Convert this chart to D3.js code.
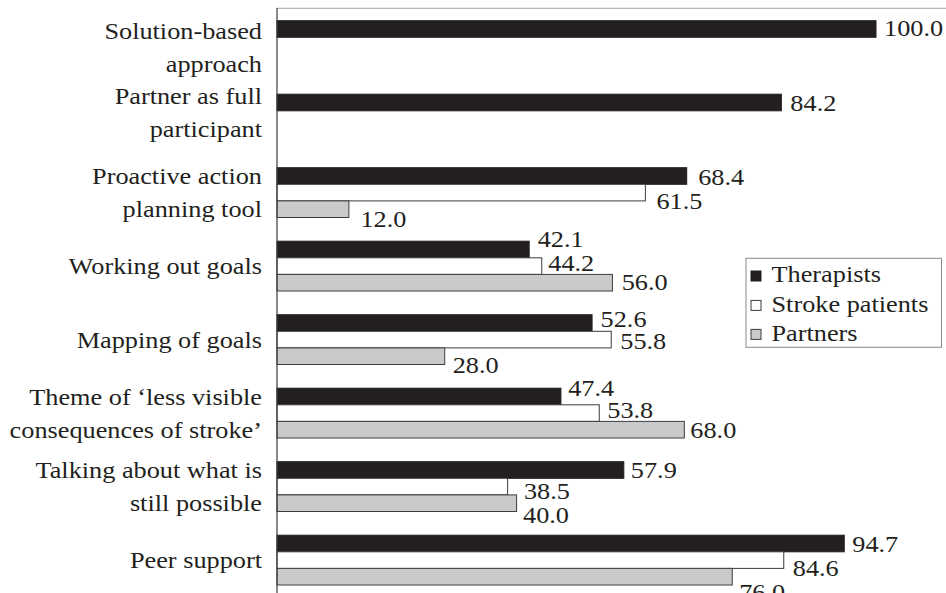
<!DOCTYPE html>
<html>
<head>
<meta charset="utf-8">
<script src="https://cdn.jsdelivr.net/npm/d3@7/dist/d3.min.js"></script>
<style>
  html, body { margin: 0; padding: 0; background: #fff; }
  svg { display: block; }
</style>
</head>
<body>
<svg id="chart" width="946" height="593"></svg>
<script>
// Share of respondents rating each intervention component as useful (%)
const categories = [
  "Solution-based approach",
  "Partner as full participant",
  "Proactive action planning tool",
  "Working out goals",
  "Mapping of goals",
  "Theme of \u2018less visible consequences of stroke\u2019",
  "Talking about what is still possible",
  "Peer support"
];
// Category labels broken into the lines they are printed on
const categoryLines = [
  ["Solution-based", "approach"],
  ["Partner as full", "participant"],
  ["Proactive action", "planning tool"],
  ["Working out goals"],
  ["Mapping of goals"],
  ["Theme of \u2018less visible", "consequences of stroke\u2019"],
  ["Talking about what is", "still possible"],
  ["Peer support"]
];
const seriesNames = ["Therapists", "Stroke patients", "Partners"];
const therapists     = [100.0, 84.2, 68.4, 42.1, 52.6, 47.4, 57.9, 94.7];
const strokePatients = [null,  null, 61.5, 44.2, 55.8, 53.8, 38.5, 84.6];
const partners       = [null,  null, 12.0, 56.0, 28.0, 68.0, 40.0, 76.0];

// ---- layout ----
const W = 946, H = 593;
const x0 = 277, xMax = 876;          // pixel span of 0..100
const bandTop = 20.7, step = 73.5, gap = 23.7;
const FONT = "'Liberation Serif', 'Times New Roman', Times, serif";
const fontSize = 24, stretch = 1.095; // wide serif lettering
const ink = "#231f20";
const fills = [ink, "#ffffff", "#c9cacc"];
const outline = "#3d3b3c";

// Hand placement of the value labels (dx, dy) so neighbours do not collide
const labelNudge = [
  [[0, -1]],
  [[1, 0]],
  [[3.5, 0.7], [3, 8.4], [3.5, 9.2]],
  [[0.5, -11], [-1.5, -3], [1.2, -1]],
  [[0.5, -4.6], [1, 1.4], [0, 8]],
  [[-0.7, -9], [0, -3], [-2, 0]],
  [[-1, 0], [8.3, 4.4], [-1.6, 11]],
  [[0, 0.5], [1, 7.6], [-1, 15]]
];
// Vertical shift of individual category labels
const catLabelShift = [2, -7, 0, 0, 0, 0, 0, 0];

const svg = d3.select("#chart")
  .attr("font-family", FONT);

const x = d3.scaleLinear().domain([0, 100]).range([x0, xMax]);
const pInner = gap / step;
const y = d3.scaleBand()
  .domain(categories)
  .range([bandTop, bandTop + step * (categories.length - pInner)])
  .paddingInner(pInner)
  .paddingOuter(0);
const ySeries = d3.scaleBand()
  .domain(seriesNames)
  .range([0, y.bandwidth()])
  .padding(0);

const seriesValues = [therapists, strokePatients, partners];

// top frame rule
svg.append("line")
  .attr("x1", x(0)).attr("x2", W)
  .attr("y1", 8.3).attr("y2", 8.3)
  .attr("stroke", "#b9b9b9").attr("stroke-width", 1.2);

// bars
const rows = [];
categories.forEach((c, i) => {
  seriesNames.forEach((s, j) => {
    const v = seriesValues[j][i];
    if (v !== null && v !== undefined) rows.push({ c, i, s, j, v });
  });
});

svg.append("g").selectAll("rect")
  .data(rows)
  .join("rect")
  .attr("x", x(0))
  .attr("y", d => y(d.c) + ySeries(d.s))
  .attr("width", d => x(d.v) - x(0))
  .attr("height", ySeries.bandwidth())
  .attr("fill", d => fills[d.j])
  .attr("stroke", d => d.j === 0 ? ink : outline)
  .attr("stroke-width", 1);

// value labels
svg.append("g").selectAll("text")
  .data(rows)
  .join("text")
  .attr("transform", d => {
    const n = labelNudge[d.i][d.j] || [0, 0];
    const tx = x(d.v) + 8 + n[0];
    const ty = y(d.c) + ySeries(d.s) + ySeries.bandwidth() + n[1];
    return `translate(${tx},${ty}) scale(${stretch},1)`;
  })
  .attr("font-family", FONT)
  .attr("font-size", fontSize)
  .attr("fill", ink)
  .text(d => d3.format(".1f")(d.v));

// vertical axis line
svg.append("line")
  .attr("x1", x(0)).attr("x2", x(0))
  .attr("y1", 8).attr("y2", H)
  .attr("stroke", outline).attr("stroke-width", 1.2);

// category labels
const lineGap = 33;
svg.append("g").selectAll("text")
  .data(categories)
  .join("text")
  .attr("text-anchor", "end")
  .attr("font-family", FONT)
  .attr("font-size", fontSize)
  .attr("fill", ink)
  .attr("transform", (c, i) => {
    const n = categoryLines[i].length;
    const cy = y(c) + y.bandwidth() / 2;
    const first = n === 1 ? cy + 8 : cy - 8.3;
    return `translate(262,${first + catLabelShift[i]}) scale(${stretch},1)`;
  })
  .each(function (c, i) {
    d3.select(this).selectAll("tspan")
      .data(categoryLines[i])
      .join("tspan")
      .attr("x", 0)
      .attr("dy", (t, k) => k === 0 ? 0 : lineGap)
      .text(t => t);
  });

// legend
const legend = svg.append("g");
legend.append("rect")
  .attr("x", 746).attr("y", 258.3)
  .attr("width", 195.5).attr("height", 89)
  .attr("fill", "#fff").attr("stroke", "#8a8a8a").attr("stroke-width", 1);
const legendBase = [282.3, 311.7, 340.7];
seriesNames.forEach((s, j) => {
  legend.append("rect")
    .attr("x", 751).attr("y", legendBase[j] - 11.3)
    .attr("width", 10).attr("height", 10)
    .attr("fill", fills[j])
    .attr("stroke", j === 0 ? ink : outline).attr("stroke-width", 1);
  legend.append("text")
    .attr("transform", `translate(771.5,${legendBase[j]}) scale(${stretch},1)`)
    .attr("font-family", FONT)
    .attr("font-size", fontSize)
    .attr("fill", ink)
    .text(s);
});
</script>
</body>
</html>
